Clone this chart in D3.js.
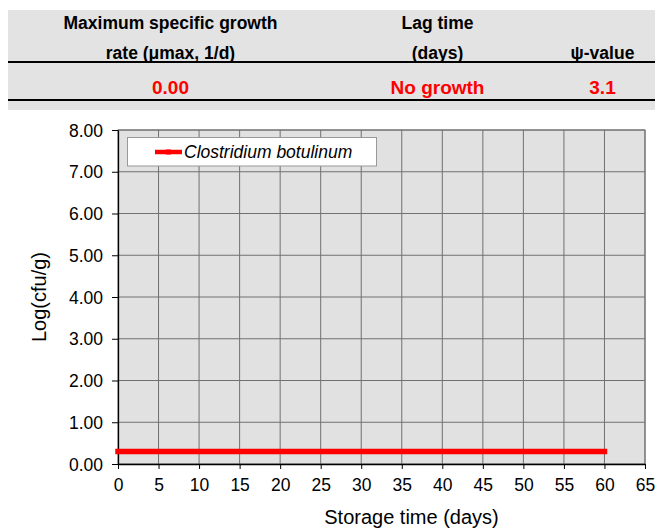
<!DOCTYPE html>
<html><head><meta charset="utf-8">
<script src="https://cdn.jsdelivr.net/npm/d3@7"></script>
<style>body{margin:0;background:#fff;}svg{display:block;font-family:Arial,"Liberation Sans",sans-serif;}</style>
</head><body><svg id="c" width="655" height="530"></svg>
<script>
const headerLine1 = ["Maximum specific growth", "Lag time", ""];
const headerLine2 = ["rate (μmax, 1/d)", "(days)", "ψ-value"];
const headerValues = ["0.00", "No growth", "3.1"];
const seriesName = "Clostridium botulinum";
const days = [0, 60];
const logCfu = [0.3, 0.3];
const xTicks = d3.range(0, 66, 5);
const yTicks = d3.range(0, 8.01, 1);

const svg = d3.select("#c");
// header band
svg.append("rect").attr("x",8).attr("y",10).attr("width",647).attr("height",100).attr("fill","#e3e3e3");
svg.append("line").attr("x1",8).attr("x2",655).attr("y1",62).attr("y2",62).attr("stroke","#000").attr("stroke-width",1.8);
svg.append("line").attr("x1",8).attr("x2",655).attr("y1",100).attr("y2",100).attr("stroke","#000").attr("stroke-width",1.8);
const colX = [170.5, 437.5, 602.5];
headerLine1.forEach((t,i)=>svg.append("text").attr("x",colX[i]).attr("y",29).attr("text-anchor","middle").attr("font-size",17.5).attr("font-weight","bold").attr("fill","#000").text(t));
headerLine2.forEach((t,i)=>svg.append("text").attr("x",colX[i]).attr("y",59).attr("text-anchor","middle").attr("font-size",17.5).attr("font-weight","bold").attr("fill","#000").text(t));
headerValues.forEach((t,i)=>svg.append("text").attr("x",colX[i]).attr("y",94).attr("text-anchor","middle").attr("font-size",19).attr("font-weight","bold").attr("fill","#ff0000").text(t));

const L=118, R=645, T=130, B=464;
const x = d3.scaleLinear().domain([0,65]).range([L,R]);
const y = d3.scaleLinear().domain([0,8]).range([B,T]);

svg.append("rect").attr("x",L).attr("y",T).attr("width",R-L).attr("height",B-T).attr("fill","#e1e1e1").attr("stroke","#6e6e6e");
// grid
svg.append("g").selectAll("line").data(xTicks.slice(1)).join("line")
  .attr("x1",d=>x(d)).attr("x2",d=>x(d)).attr("y1",T).attr("y2",B).attr("stroke","#707070").attr("stroke-width",1);
svg.append("g").selectAll("line").data(yTicks.slice(1)).join("line")
  .attr("x1",L).attr("x2",R).attr("y1",d=>y(d)).attr("y2",d=>y(d)).attr("stroke","#707070").attr("stroke-width",1);

const xAxis = svg.append("g").attr("transform",`translate(0,${B})`)
  .call(d3.axisBottom(x).tickValues(xTicks).tickSize(5).tickPadding(10).tickSizeOuter(0));
const yAxis = svg.append("g").attr("transform",`translate(${L},0)`)
  .call(d3.axisLeft(y).tickValues(yTicks).tickFormat(d3.format(".2f")).tickSize(6).tickPadding(9).tickSizeOuter(0));
[xAxis,yAxis].forEach(a=>{
  a.selectAll("text").attr("font-size",17.5).attr("fill","#000").attr("font-family","Arial,'Liberation Sans',sans-serif");
  a.selectAll("line").attr("stroke","#000");
  a.select(".domain").attr("stroke","#000").attr("stroke-width",1.3);
});
yAxis.selectAll("text").attr("dy","0.35em");

// series
const line = d3.line().x((d,i)=>x(days[i])).y(d=>y(d));
svg.append("path").datum(logCfu).attr("d",line).attr("fill","none").attr("stroke","#ff0000").attr("stroke-width",5.5).attr("stroke-linecap","square");

// legend
svg.append("rect").attr("x",127.5).attr("y",137.5).attr("width",249).attr("height",28.5).attr("fill","#fff").attr("stroke","#999");
svg.append("line").attr("x1",155).attr("x2",182).attr("y1",152).attr("y2",152).attr("stroke","#ff0000").attr("stroke-width",4.5);
svg.append("rect").attr("x",166).attr("y",149.5).attr("width",5).attr("height",5).attr("fill","#ff0000");
svg.append("text").attr("x",184).attr("y",157.5).attr("font-size",17.5).attr("font-style","italic").attr("fill","#000").text(seriesName);

// axis titles
svg.append("text").attr("x",411.5).attr("y",524).attr("text-anchor","middle").attr("font-size",20).attr("fill","#000").text("Storage time (days)");
svg.append("text").attr("transform",`translate(46,297) rotate(-90)`).attr("text-anchor","middle").attr("font-size",20).attr("fill","#000").text("Log(cfu/g)");
</script></body></html>
